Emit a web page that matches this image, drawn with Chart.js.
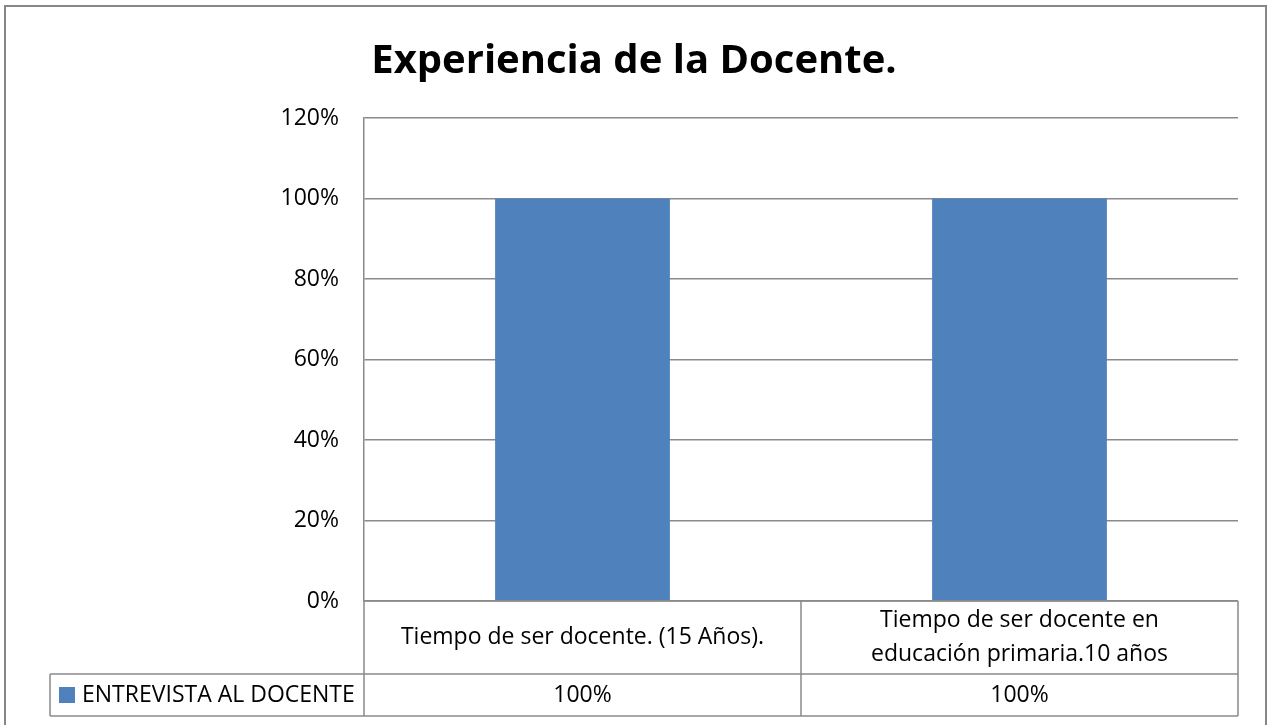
<!DOCTYPE html>
<html>
<head>
<meta charset="utf-8">
<script src="https://cdn.jsdelivr.net/npm/chart.js@4/dist/chart.umd.min.js"></script>
<style>
  html, body { margin: 0; padding: 0; background: #fff; }
  #wrap { width: 1268px; height: 725px; }
</style>
</head>
<body>
<div id="wrap"><canvas id="experienciaChart" width="1268" height="725"></canvas></div>
<script>
const categories = [
    ['Tiempo de ser docente. (15 Años).'],
    ['Tiempo de ser docente en', 'educación primaria.10 años']
];
const seriesName = 'ENTREVISTA AL DOCENTE';
const seriesValues = [1.0, 1.0];
const yTicks = [0, 0.2, 0.4, 0.6, 0.8, 1.0, 1.2];

const BLUE = '#4F81BD';
const GRID = '#8a8a8a';
const FONT = '"Open Sans", "Noto Sans", sans-serif';
const TEXT_SIZE = 23;

const pct = v => Math.round(v * 100) + '%';

// borde exterior y tabla de datos debajo del eje
const dataTable = {
    id: 'dataTable',
    afterDraw(chart) {
        const c = chart.ctx;
        const x = chart.scales.x;
        const area = chart.chartArea;
        const top = area.bottom;
        const row1 = top + 73;
        const row2 = row1 + 42;
        const legendLeft = 50;

        c.save();
        c.strokeStyle = GRID;
        c.lineWidth = 1.5;

        // bordes de la tabla
        c.beginPath();
        c.moveTo(area.left, top);
        c.lineTo(area.right, top);
        c.moveTo(legendLeft, row1);
        c.lineTo(area.right, row1);
        c.moveTo(legendLeft, row2);
        c.lineTo(area.right, row2);
        c.moveTo(legendLeft, row1);
        c.lineTo(legendLeft, row2);
        c.moveTo(area.left, top);
        c.lineTo(area.left, row2);
        for (let i = 0; i < categories.length; i++) {
            const right = i < categories.length - 1
                ? (x.getPixelForValue(i) + x.getPixelForValue(i + 1)) / 2
                : area.right;
            c.moveTo(right, top);
            c.lineTo(right, row2);
        }
        c.stroke();

        // textos
        c.fillStyle = '#000';
        c.font = TEXT_SIZE + 'px ' + FONT;
        c.textAlign = 'center';
        c.textBaseline = 'middle';
        categories.forEach((lines, i) => {
            const cx = x.getPixelForValue(i);
            const mid = (top + row1) / 2;
            const lh = 34;
            lines.forEach((t, j) => {
                c.fillText(t, cx, mid + (j - (lines.length - 1) / 2) * lh);
            });
            c.fillText(pct(seriesValues[i]), cx, (row1 + row2) / 2);
        });

        // leyenda en la tabla
        c.fillStyle = BLUE;
        c.fillRect(59, (row1 + row2) / 2 - 8, 16, 16);
        c.fillStyle = '#000';
        c.textAlign = 'left';
        c.fillText(seriesName, 82, (row1 + row2) / 2);

        // marco del gráfico
        c.strokeStyle = '#868686';
        c.lineWidth = 2;
        c.strokeRect(5, 6, 1261, 740);
        c.restore();
    }
};

const ctx = document
    .getElementById('experienciaChart')
    .getContext('2d');

new Chart(ctx, {
    type: 'bar',
    data: {
        labels: categories,
        datasets: [{
            label: seriesName,
            data: seriesValues,
            backgroundColor: BLUE,
            borderWidth: 0,
            categoryPercentage: 1,
            barPercentage: 0.4
        }]
    },
    options: {
        responsive: false,
        animation: false,
        devicePixelRatio: 1,
        layout: {
            padding: { left: 30, right: 30, top: 0, bottom: 9 }
        },
        plugins: {
            legend: { display: false },
            tooltip: { enabled: false },
            title: {
                display: true,
                text: 'Experiencia de la Docente.',
                color: '#000',
                font: { family: FONT, size: 40, weight: 'bold', lineHeight: 1.2 },
                padding: { top: 38, bottom: 32 }
            }
        },
        scales: {
            x: {
                ticks: { display: false },
                grid: { display: false },
                border: { display: false },
                afterFit: s => { s.height = 115; }
            },
            y: {
                min: 0,
                max: 1.2,
                afterBuildTicks: s => { s.ticks = yTicks.map(v => ({ value: v })); },
                ticks: {
                    color: '#000',
                    padding: 25,
                    font: { family: FONT, size: TEXT_SIZE },
                    callback: v => pct(v)
                },
                grid: {
                    color: GRID,
                    lineWidth: 1.5,
                    drawTicks: false
                },
                border: { color: GRID, width: 1.5 },
                afterFit: s => { s.width = 334; }
            }
        }
    },
    plugins: [dataTable]
});
</script>
</body>
</html>
